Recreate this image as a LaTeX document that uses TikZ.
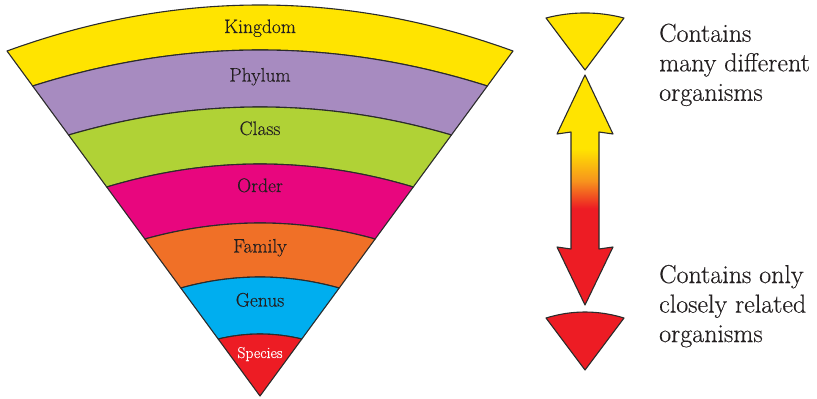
\documentclass[tikz,border=0pt]{standalone}
\usepackage{fontspec}
\setmainfont{Latin Modern Roman}[FakeBold=0.35]
\usetikzlibrary{calc}
\definecolor{cyel}{HTML}{FFE400}
\definecolor{cpur}{HTML}{A78BC0}
\definecolor{cgrn}{HTML}{B0D236}
\definecolor{cmag}{HTML}{E8067E}
\definecolor{corg}{HTML}{F07027}
\definecolor{cblu}{HTML}{00AEEF}
\definecolor{cred}{HTML}{ED1C24}
\definecolor{ctxt}{HTML}{231F20}
\definecolor{cline}{HTML}{2B2B2B}
\definecolor{arorange}{HTML}{F7941D}
\pgfdeclareverticalshading{arrowgrad}{100bp}{color(0bp)=(cred); color(46bp)=(cred); color(52bp)=(arorange); color(59bp)=(cyel); color(100bp)=(cyel)}
\newcommand\taxband[6]{%
  \pgfmathsetmacro\tlx{7+(#2-51)/345*253}%
  \pgfmathsetmacro\trx{520-\tlx}%
  \pgfmathsetmacro\tcy{#2-4*#3/3}%
  \pgfmathsetmacro\tclx{\tlx+2/3*(260-\tlx)}%
  \pgfmathsetmacro\tcrx{520-\tclx}%
  \pgfmathsetmacro\blx{7+(#4-51)/345*253}%
  \pgfmathsetmacro\brx{520-\blx}%
  \pgfmathsetmacro\bcy{#4-4*#5/3}%
  \pgfmathsetmacro\bclx{\blx+2/3*(260-\blx)}%
  \pgfmathsetmacro\bcrx{520-\bclx}%
  \filldraw[bandline, fill=#1] (\tlx,#2) coordinate (#6tl)
    .. controls (\tclx,\tcy) and (\tcrx,\tcy) .. (\trx,#2) coordinate (#6tr)
    -- (\brx,#4) coordinate (#6br)
    .. controls (\bcrx,\bcy) and (\bclx,\bcy) .. (\blx,#4) coordinate (#6bl) -- cycle;
}
\tikzset{
  bandline/.style={draw=cline, line width=1.1pt, line join=round},
  bandlabel/.style={text=ctxt, font=\fontsize{19.5}{22}\selectfont, inner sep=0pt, anchor=base},
  sidetext/.style={text=ctxt, font=\fontsize{26}{29.5}\selectfont, align=left, inner sep=0pt, anchor=north west}
}
\begin{document}
\begin{tikzpicture}[x=1pt, y=-1pt]
\useasboundingbox (0,0) rectangle (817,399);
% fan bands
\taxband{cyel}{51}{46}{86}{36}{k}
\taxband{cpur}{86}{36}{135}{28}{p}
\taxband{cgrn}{135}{28}{187}{23}{c}
\taxband{cmag}{187}{23}{239}{16}{o}
\taxband{corg}{239}{16}{288}{11}{f}
\taxband{cblu}{288}{11}{339}{5}{g}
\taxband{cred}{339}{5}{396}{0}{s}
% labels
\node[bandlabel] (lk) at (260,33) {Kingdom};
\node[bandlabel] (lp) at (260,81.5) {Phylum};
\node[bandlabel] (lc) at (260,135) {Class};
\node[bandlabel] (lo) at (260,192) {Order};
\node[bandlabel] (lf) at (260,252.5) {Family};
\node[bandlabel] (lg) at (260,306.5) {Genus};
\node[bandlabel, text=white, font=\fontsize{15.7}{18}\selectfont] (ls) at (260,358) {Species};
% small sectors
\filldraw[bandline, fill=cyel] (546,18) coordinate (ytl) .. controls (572,11.3) and (598,11.3) .. (624,18) coordinate (ytr) -- (585,70) coordinate (yap) -- cycle;
\filldraw[bandline, fill=cred] (546,318) coordinate (rtl) .. controls (572,310) and (598,310) .. (624,318) coordinate (rtr) -- (585,370) coordinate (rap) -- cycle;
% double arrow
\path[draw=cline, line width=1.1pt, line join=round, shading=arrowgrad]
  (585,75) coordinate (atop) -- (613,134) -- (599,132) -- (599,249) -- (613,247)
  -- (585,305) coordinate (abot) -- (557,247) -- (571,249) -- (571,132) -- (557,134) -- cycle;
% side texts
\node[sidetext] (t1) at (659,23.4) {Contains\\many different\\organisms};
\node[sidetext] (t2) at (659,264.7) {Contains only\\closely related\\organisms};
\end{tikzpicture}
\end{document}
